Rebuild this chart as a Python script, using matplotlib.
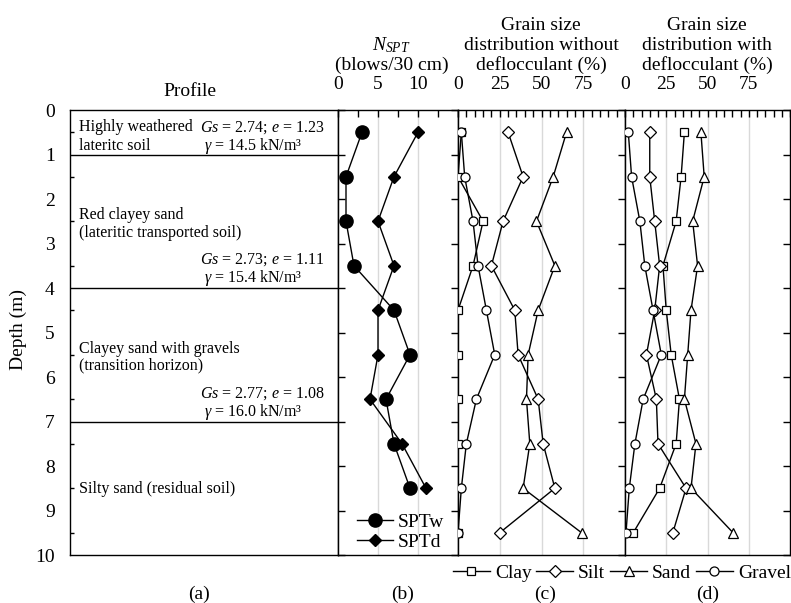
import matplotlib
matplotlib.use("Agg")
import matplotlib.pyplot as plt
from matplotlib.ticker import MultipleLocator, FixedLocator

plt.rcParams['font.family'] = ['Liberation Serif', 'DejaVu Serif']
plt.rcParams['mathtext.fontset'] = 'custom'
plt.rcParams['mathtext.rm'] = 'Liberation Serif'
plt.rcParams['mathtext.it'] = 'Liberation Serif:italic'

# ---------------- data ----------------
depth_spt = [0.5, 1.5, 2.5, 3.5, 4.5, 5.5, 6.5, 7.5, 8.5]
spt_w = [3, 1, 1, 2, 7, 9, 6, 7, 9]
spt_d = [10, 7, 5, 7, 5, 5, 4, 8, 11]

depth_gs = [0.5, 1.5, 2.5, 3.5, 4.5, 5.5, 6.5, 7.5, 8.5, 9.5]
# without deflocculant
clay_wo = [2, 0, 15, 9, 0, 0, 0, 0, 0, 0]
silt_wo = [30, 39, 27, 20, 34, 36, 48, 51, 58, 25]
sand_wo = [65, 57, 47, 58, 48, 42, 41, 43, 39, 74]
gravel_wo = [2, 4, 9, 12, 17, 22, 11, 5, 2, 0]
# with deflocculant
clay_w = [36, 34, 31, 23, 25, 28, 33, 31, 21, 5]
silt_w = [15, 15, 18, 21, 18, 13, 19, 20, 37, 29]
sand_w = [46, 48, 41, 44, 40, 38, 36, 43, 40, 65.5]
gravel_w = [2, 4, 9, 12, 17, 22, 11, 6, 2.6, 0.6]

layer_bounds = [1, 4, 7]
layer_names = [("Highly weathered", 0.39), ("lateritc soil", 0.80),
               ("Red clayey sand", 2.36), ("(lateritic transported soil)", 2.77),
               ("Clayey sand with gravels", 5.36), ("(transition horizon)", 5.75),
               ("Silty sand (residual soil)", 8.52)]
layer_props = [("$Gs$ = 2.74; $e$ = 1.23", 0.39), ("$\\gamma$ = 14.5 kN/m³", 0.80),
               ("$Gs$ = 2.73; $e$ = 1.11", 3.37), ("$\\gamma$ = 15.4 kN/m³", 3.78),
               ("$Gs$ = 2.77; $e$ = 1.08", 6.38), ("$\\gamma$ = 16.0 kN/m³", 6.78)]

depth_ticks = list(range(0, 11))
spt_ticks = [0, 5, 10]
pct_ticks = [0, 25, 50, 75]

# ---------------- figure ----------------
W, H = 791, 603
fig = plt.figure(figsize=(W / 100, H / 100), dpi=100)

def fx(px):
    return px / W

def fy(py):
    return 1 - py / H

top, bot = 110, 555
def make_ax(x0, x1):
    return fig.add_axes([fx(x0), fy(bot), fx(x1) - fx(x0), (bot - top) / H])

ax_a = make_ax(70, 338)
ax_b = make_ax(338, 458)
ax_c = make_ax(458, 625)
ax_d = make_ax(625, 790)

FS = 14
FS_SMALL = 11.5

for ax in (ax_a, ax_b, ax_c, ax_d):
    ax.set_ylim(10, 0)
    for s in ax.spines.values():
        s.set_linewidth(1.0)
        s.set_color('black')

# ----- panel a -----
ax_a.set_xlim(0, 1)
ax_a.set_xticks([])
ax_a.yaxis.set_major_locator(FixedLocator(depth_ticks))
ax_a.yaxis.set_minor_locator(MultipleLocator(0.5))
ax_a.tick_params(axis='y', which='major', direction='in', length=0, pad=11, labelsize=FS)
ax_a.tick_params(axis='y', which='minor', direction='in', length=3, width=1)
for d in layer_bounds:
    ax_a.axhline(d, color='black', lw=1.0)
tr = ax_a.get_yaxis_transform()
for txt, y in layer_names:
    ax_a.text(0.034, y, txt, transform=tr, fontsize=FS_SMALL, va='center', ha='left')
for i, (txt, y) in enumerate(layer_props):
    xoff = 0.485 if i % 2 == 0 else 0.50
    ax_a.text(xoff, y, txt, transform=tr, fontsize=FS_SMALL, va='center', ha='left')
fig.text(fx(190), fy(96), "Profile", fontsize=FS, ha='center', va='baseline')
fig.text(fx(18), fy(330), "Depth (m)", fontsize=FS, rotation=90, ha='center', va='center')

# ----- common for b, c, d -----
def style_data_ax(ax, left_ticks=False):
    ax.xaxis.tick_top()
    ax.tick_params(axis='x', which='major', direction='in', length=5, width=1,
                   pad=12, labelsize=FS, top=True, bottom=False)
    ax.tick_params(axis='x', which='minor', direction='in', length=5, width=1,
                   top=True, bottom=False)
    ax.yaxis.set_major_locator(FixedLocator(depth_ticks))
    ax.tick_params(axis='y', which='both', direction='in', length=5, width=1,
                   left=left_ticks, right=True, labelleft=False, labelright=False)
    ax.grid(axis='x', which='major', color='#d9d9d9', lw=1.0, zorder=0)
    ax.set_axisbelow(True)

# ----- panel b -----
style_data_ax(ax_b, left_ticks=True)
ax_b.set_xlim(0, 15)
ax_b.set_xticks(spt_ticks)
ax_b.xaxis.set_minor_locator(MultipleLocator(2.5))
ax_b.plot(spt_w, depth_spt, '-o', color='black', lw=1.0, ms=9.5, label='SPTw', zorder=3)
ax_b.plot(spt_d, depth_spt, '-D', color='black', lw=1.0, ms=6.5, label='SPTd', zorder=3)
fig.legend(handles=ax_b.get_lines(), loc='center left',
           bbox_to_anchor=(fx(357), fy(532)), frameon=False, fontsize=FS,
           handlelength=1.85, handletextpad=0.26, labelspacing=0.12,
           borderpad=0, borderaxespad=0)

# ----- panels c and d -----
mk = dict(color='black', lw=1.0, mfc='white', mec='black', mew=0.9, zorder=3)
series_wo = [(clay_wo, 's', 6), (silt_wo, 'D', 6), (sand_wo, '^', 7), (gravel_wo, 'o', 6.5)]
series_w = [(clay_w, 's', 6), (silt_w, 'D', 6), (sand_w, '^', 7), (gravel_w, 'o', 6.5)]
labels_gs = ['Clay', 'Silt', 'Sand', 'Gravel']
for ax, series in ((ax_c, series_wo), (ax_d, series_w)):
    style_data_ax(ax)
    ax.set_xlim(0, 100)
    ax.set_xticks(pct_ticks)
    ax.xaxis.set_minor_locator(MultipleLocator(5))
    for (vals, m, ms), lab in zip(series, labels_gs):
        ax.plot(vals, depth_gs, '-', marker=m, ms=ms, label=lab, **mk)

fig.legend(handles=ax_c.get_lines(), loc='center left', ncol=4,
           bbox_to_anchor=(fx(453), fy(573)), frameon=False, fontsize=FS,
           handlelength=1.9, handletextpad=0.25, columnspacing=0.25,
           borderpad=0, borderaxespad=0)

# ----- titles -----
fig.text(fx(391), fy(50), "$N_{SPT}$", fontsize=FS, ha='center', va='baseline')
fig.text(fx(392), fy(70), "(blows/30 cm)", fontsize=FS, ha='center', va='baseline')
for xc, word in ((541, "without"), (707, "with")):
    fig.text(fx(xc), fy(30), "Grain size", fontsize=FS, ha='center', va='baseline')
    fig.text(fx(xc), fy(50), "distribution " + word, fontsize=FS, ha='center', va='baseline')
    fig.text(fx(xc), fy(70), "deflocculant (%)", fontsize=FS, ha='center', va='baseline')

# ----- panel letters -----
for xc, lab in ((199, "(a)"), (403, "(b)"), (545, "(c)"), (708, "(d)")):
    fig.text(fx(xc), fy(599), lab, fontsize=FS, ha='center', va='baseline')

fig.savefig("out.png", dpi=100)
